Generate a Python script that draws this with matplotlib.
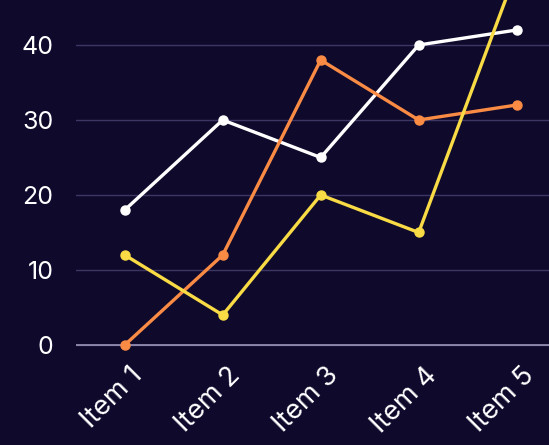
import matplotlib
matplotlib.use("Agg")
import matplotlib.pyplot as plt
from matplotlib.transforms import ScaledTranslation

categories = ["Item 1", "Item 2", "Item 3", "Item 4", "Item 5"]
white_vals = [18, 30, 25, 40, 42]
orange_vals = [0, 12, 38, 30, 32]
yellow_vals = [12, 4, 20, 15, 50]
yticks = [0, 10, 20, 30, 40]

BG = "#0f0a2c"

plt.rcParams['font.family'] = ['Inter', 'DejaVu Sans']

fig = plt.figure(figsize=(5.49, 4.45), dpi=100, facecolor=BG)
ax = fig.add_axes([0.138, 0.218, 0.862, 0.782])
ax.set_facecolor(BG)

x = list(range(len(categories)))
for vals, col in [(white_vals, "#ffffff"), (orange_vals, "#f98b45"), (yellow_vals, "#f9db45")]:
    ax.plot(x, vals, color=col, linewidth=2.4, marker="o", markersize=6.5,
            solid_joinstyle="miter", zorder=3)

ax.set_xlim(-0.5, 4.33)
ax.set_ylim(-0.4, 46)
ax.set_yticks(yticks)
ax.set_xticks(x)
ax.set_xticklabels(categories, rotation=45, ha="right", va="center",
                   rotation_mode="anchor")

ax.grid(axis="y", color="#3b3663", linewidth=1.0)
ax.set_axisbelow(True)
for s in ax.spines.values():
    s.set_visible(False)
ax.axhline(0, color="#9a96b8", linewidth=1.2, zorder=1.5)

ax.tick_params(axis="both", length=0, colors="white")
ax.tick_params(axis="y", pad=16, labelsize=18)
ax.tick_params(axis="x", pad=17, labelsize=19.5)

# nudge x labels to the right like the original
shift = ScaledTranslation(14 / 100, 0, fig.dpi_scale_trans)
for lab in ax.get_xticklabels():
    lab.set_transform(lab.get_transform() + shift)

# keep the marker sitting on the zero line visible
ax.lines[1].set_clip_on(False)

fig.savefig("out.png", dpi=100, facecolor=BG)
